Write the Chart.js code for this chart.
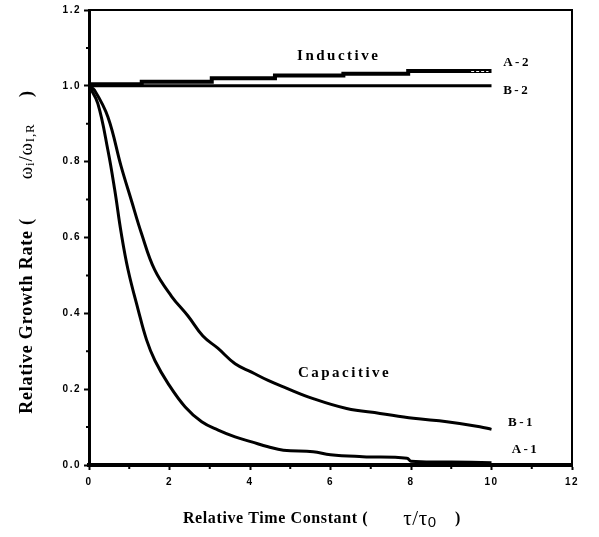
<!DOCTYPE html>
<html>
<head>
<meta charset="utf-8">
<script src="https://cdn.jsdelivr.net/npm/chart.js@4.4.0/dist/chart.umd.min.js"></script>
<style>
  html, body { margin: 0; padding: 0; background: #fff; }
  #wrap { width: 599px; height: 537px; }
</style>
</head>
<body>
<div id="wrap"><canvas id="chart" width="599" height="537"></canvas></div>
<script>
// axis ranges / ticks
const X_MIN = 0, X_MAX = 12, X_STEP = 2;
const Y_MIN = 0, Y_MAX = 1.2, Y_STEP = 0.2;
const xMinorTicks = [1, 3, 5, 7, 9, 11];
const yMinorTicks = [0.1, 0.3, 0.5, 0.7, 0.9, 1.1];

// A-1 (capacitive, fast decay)
const a1X = [0, 0.22, 0.47, 0.64, 0.8, 0.97, 1.22, 1.43, 1.64, 1.97, 2.39, 2.8, 3.21, 3.63, 4.04, 4.45, 4.83, 5.57, 6.0, 6.8, 7.9, 8.0, 9.0, 10.0];
const a1Y = [1.0, 0.953, 0.83, 0.725, 0.612, 0.515, 0.41, 0.33, 0.275, 0.214, 0.153, 0.114, 0.092, 0.074, 0.061, 0.048, 0.039, 0.035, 0.027, 0.022, 0.018, 0.01, 0.008, 0.006];

// B-1 (capacitive, slow decay)
const b1X = [0, 0.14, 0.47, 0.8, 1.05, 1.3, 1.63, 2.05, 2.46, 2.83, 3.2, 3.63, 4.04, 4.45, 4.83, 5.57, 6.4, 7.23, 8.06, 8.89, 9.71, 10.0];
const b1Y = [1.0, 0.988, 0.918, 0.787, 0.699, 0.612, 0.515, 0.445, 0.393, 0.34, 0.308, 0.267, 0.245, 0.223, 0.206, 0.175, 0.149, 0.136, 0.123, 0.114, 0.101, 0.094];

// A-2 (inductive, stepped rise)
const a2X = [0, 1.31, 3.05, 4.62, 6.32, 7.93, 9.42, 10.0];
const a2Y = [1.0, 1.004, 1.011, 1.02, 1.027, 1.032, 1.039, 1.039];

// B-2 (inductive, flat)
const b2X = [0, 10];
const b2Y = [1.0, 1.0];

// curve labels, in data units
const annotations = [
  { text: 'Inductive',  x: 5.17,  y: 1.079, font: 'bold 15px "Liberation Serif"', spacing: '2.5px' },
  { text: 'Capacitive', x: 5.19,  y: 0.242, font: 'bold 15px "Liberation Serif"', spacing: '2.5px' },
  { text: 'A-2',        x: 10.29, y: 1.06,  font: 'bold 13px "Liberation Serif"', spacing: '2.5px' },
  { text: 'B-2',        x: 10.29, y: 0.987, font: 'bold 13px "Liberation Serif"', spacing: '2.5px' },
  { text: 'B-1',        x: 10.41, y: 0.113, font: 'bold 13px "Liberation Serif"', spacing: '2.5px' },
  { text: 'A-1',        x: 10.5,  y: 0.04,  font: 'bold 13px "Liberation Serif"', spacing: '2.5px' },
];

const toPoints = (xs, ys) => xs.map((x, i) => ({ x, y: ys[i] }));

const lineStyle = {
  showLine: true,
  pointRadius: 0,
  borderColor: '#000',
  backgroundColor: '#000',
  fill: false,
};

const xTitle = [
  { text: 'Relative Time Constant (', font: 'bold 16px "Liberation Serif"' },
  { text: '      τ/τ', font: '21px "Liberation Serif"' },
  { text: '0', font: '15px "Liberation Sans"', dy: 4 },
  { text: '    )', font: 'bold 16px "Liberation Serif"' },
];
const yTitle = [
  { text: 'Relative Growth Rate (', font: 'bold 18px "Liberation Serif"' },
  { text: '       ω', font: '19px "Liberation Serif"' },
  { text: 'i', font: '13px "Liberation Serif"', dy: 4 },
  { text: '/ω', font: '19px "Liberation Serif"' },
  { text: 'I,R', font: '13px "Liberation Serif"', dy: 4 },
  { text: '     )', font: 'bold 18px "Liberation Serif"' },
];

function drawSegments(ctx, segs, cx, cy, spacing) {
  ctx.letterSpacing = spacing;
  let total = 0;
  segs.forEach(s => { ctx.font = s.font; total += ctx.measureText(s.text).width; });
  let x = cx - total / 2;
  ctx.textBaseline = 'middle';
  ctx.textAlign = 'left';
  segs.forEach(s => {
    ctx.font = s.font;
    ctx.fillText(s.text, x, cy + (s.dy || 0));
    x += ctx.measureText(s.text).width;
  });
}

const decorPlugin = {
  id: 'decor',
  beforeUpdate(chart) {
    // wider tracking for the tick numbers
    chart.ctx.letterSpacing = '1.5px';
  },
  afterDatasetsDraw(chart) {
    // white dashes inside the A-2 steps
    const ctx = chart.ctx;
    const xs = chart.scales.x, ys = chart.scales.y;
    ctx.save();
    ctx.strokeStyle = '#fff';
    ctx.lineWidth = 1;
    ctx.setLineDash([3, 2]);
    for (let i = 2; i < a2X.length - 1; i++) {
      const y = Math.round(ys.getPixelForValue(a2Y[i])) + 0.5;
      ctx.beginPath();
      ctx.moveTo(xs.getPixelForValue(a2X[i]) + 3, y);
      ctx.lineTo(xs.getPixelForValue(a2X[i + 1]) - 3, y);
      ctx.stroke();
    }
    ctx.restore();
  },
  afterDraw(chart) {
    const ctx = chart.ctx;
    const area = chart.chartArea;
    const xs = chart.scales.x, ys = chart.scales.y;
    ctx.save();
    ctx.fillStyle = '#000';
    ctx.strokeStyle = '#000';

    // top and right frame
    ctx.lineWidth = 2;
    ctx.beginPath();
    ctx.moveTo(area.left, area.top);
    ctx.lineTo(area.right, area.top);
    ctx.lineTo(area.right, area.bottom);
    ctx.stroke();

    // minor ticks
    ctx.beginPath();
    xMinorTicks.forEach(v => {
      const px = xs.getPixelForValue(v);
      ctx.moveTo(px, area.bottom);
      ctx.lineTo(px, area.bottom + 4);
    });
    yMinorTicks.forEach(v => {
      const py = ys.getPixelForValue(v);
      ctx.moveTo(area.left, py);
      ctx.lineTo(area.left - 3, py);
    });
    ctx.stroke();

    // curve labels
    ctx.textBaseline = 'middle';
    ctx.textAlign = 'left';
    annotations.forEach(a => {
      ctx.font = a.font;
      ctx.letterSpacing = a.spacing;
      ctx.fillText(a.text, xs.getPixelForValue(a.x), ys.getPixelForValue(a.y));
    });

    // axis titles
    drawSegments(ctx, xTitle, 322, 519, '0.6px');
    ctx.translate(27, 252);
    ctx.rotate(-Math.PI / 2);
    drawSegments(ctx, yTitle, 0, 0, '0.8px');
    ctx.restore();
  }
};

const tickFont = { family: '"Liberation Sans"', size: 10, weight: 'bold' };

new Chart(document.getElementById('chart'), {
  type: 'scatter',
  data: {
    datasets: [
      { label: 'A-1', data: toPoints(a1X, a1Y), ...lineStyle, borderWidth: 3, tension: 0.4 },
      { label: 'B-1', data: toPoints(b1X, b1Y), ...lineStyle, borderWidth: 3, tension: 0.4 },
      { label: 'A-2', data: toPoints(a2X, a2Y), ...lineStyle, borderWidth: 4, stepped: 'after' },
      { label: 'B-2', data: toPoints(b2X, b2Y), ...lineStyle, borderWidth: 3 },
    ],
  },
  options: {
    responsive: false,
    animation: false,
    devicePixelRatio: 1,
    layout: { padding: { left: 0, right: 27, top: 10, bottom: 0 } },
    plugins: { legend: { display: false }, tooltip: { enabled: false } },
    scales: {
      x: {
        type: 'linear',
        min: X_MIN, max: X_MAX,
        ticks: { stepSize: X_STEP, color: '#000', font: tickFont, padding: 6 },
        grid: { drawOnChartArea: false, drawTicks: true, tickLength: 5, tickWidth: 2, tickColor: '#000' },
        border: { display: true, color: '#000', width: 4 },
        afterFit: s => { s.height = 72; },
      },
      y: {
        type: 'linear',
        min: Y_MIN, max: Y_MAX,
        ticks: { stepSize: Y_STEP, color: '#000', font: tickFont, padding: 3, callback: v => v.toFixed(1) },
        grid: { drawOnChartArea: false, drawTicks: true, tickLength: 5, tickWidth: 2, tickColor: '#000' },
        border: { display: true, color: '#000', width: 3 },
        afterFit: s => { s.width = 89; },
      },
    },
  },
  plugins: [decorPlugin],
});
</script>
</body>
</html>
